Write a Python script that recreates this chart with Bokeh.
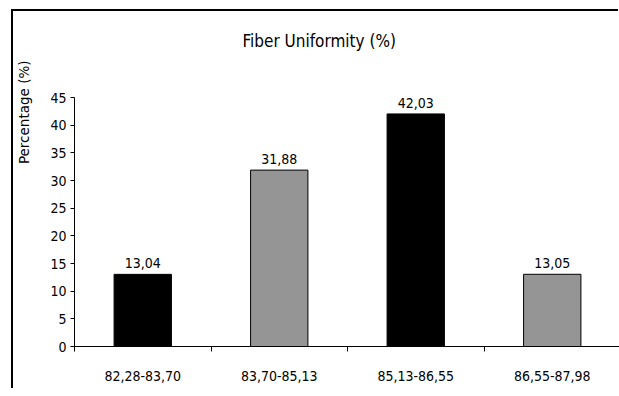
from bokeh.embed import file_html
from bokeh.models import FixedTicker, Range1d, Title
from bokeh.plotting import figure
from bokeh.resources import INLINE

# Distribution of fibre uniformity classes
classes = ["82,28-83,70", "83,70-85,13", "85,13-86,55", "86,55-87,98"]
percentages = [13.04, 31.88, 42.03, 13.05]
bar_colors = ["#000000", "#959595", "#000000", "#959595"]
y_ticks = [0, 5, 10, 15, 20, 25, 30, 35, 40, 45]

COND = "DejaVu Sans Condensed"

centers = [i + 0.5 for i in range(len(classes))]
value_text = [f"{v:.2f}".replace(".", ",") for v in percentages]

p = figure(
    frame_width=546,
    frame_height=249,
    min_border_left=60,
    min_border_top=86,
    min_border_bottom=44,
    min_border_right=0,
    x_range=Range1d(0, len(classes)),
    y_range=Range1d(0, 45),
    output_backend="svg",
    toolbar_location=None,
    background_fill_color="white",
    border_fill_color="white",
    outline_line_color=None,
    # chart border on the left and top edges only
    styles={
        "margin": "11px 0 0 13px",
        "box-shadow": "-2px -2px 0 0 black",
    },
)
p.grid.visible = False

# chart title, kept well clear of the plotting area by blank trailing lines
p.title.text = "Fiber Uniformity (%)\n\n"
p.title.align = "left"
p.title.offset = 168
p.title.standoff = 14
p.title.text_font = COND
p.title.text_font_size = "17px"
p.title.text_font_style = "normal"
p.title.text_color = "black"

p.add_layout(Title(text="Percentage (%)\n", align="right", offset=-37,
                   standoff=0, text_font="DejaVu Sans",
                   text_font_size="13.5px", text_font_style="normal",
                   text_color="black"), "left")

p.vbar(x=centers, top=percentages, width=0.42, fill_color=bar_colors,
       line_color="black", line_width=1)

p.text(x=centers, y=percentages, text=value_text, y_offset=-6,
       text_align="center", text_baseline="bottom",
       text_font_size="14px", text_color="black",
       text_font={"value": COND})

# x axis: labels centred under each class, ticks on class boundaries
xa = p.xaxis[0]
xa.ticker = FixedTicker(ticks=centers, minor_ticks=list(range(len(classes) + 1)))
xa.major_label_overrides = {c: lab for c, lab in zip(centers, classes)}
xa.major_tick_out = 0
xa.major_tick_in = 0
xa.minor_tick_out = 5
xa.minor_tick_in = 0
xa.minor_tick_line_color = "black"
xa.axis_line_color = "black"
xa.major_label_standoff = 19
xa.major_label_text_font = COND
xa.major_label_text_font_size = "14px"
xa.major_label_text_color = "black"

ya = p.yaxis[0]
ya.ticker = FixedTicker(ticks=y_ticks, minor_ticks=[])
ya.major_tick_out = 4
ya.major_tick_in = 0
ya.major_tick_line_color = "black"
ya.axis_line_color = "black"
ya.major_label_standoff = 4
ya.major_label_text_font = COND
ya.major_label_text_font_size = "14px"
ya.major_label_text_color = "black"

open("out.html", "w").write(file_html(p, INLINE))
